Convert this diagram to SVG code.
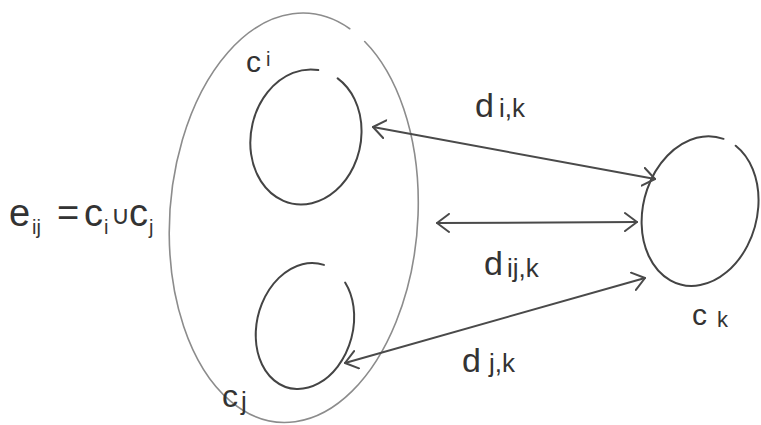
<svg xmlns="http://www.w3.org/2000/svg" width="761" height="425" viewBox="0 0 761 425">
<style>
.bg{fill:#ffffff}
.outer{fill:none;stroke:#8c8c8c;stroke-width:1.6;stroke-linecap:round}
.set{fill:none;stroke:#444;stroke-width:2;stroke-linecap:round}
.conn{fill:none;stroke:#4a4a4a;stroke-width:2;stroke-linecap:round}
.t{font-family:"Liberation Sans",Arial,sans-serif;fill:#333}
</style>
<defs>
<marker id="ah" viewBox="0 0 14 20" refX="13" refY="10" markerWidth="14" markerHeight="20" markerUnits="userSpaceOnUse" orient="auto-start-reverse">
<path d="M1,1 L13,10 L1,19" fill="none" stroke="#4a4a4a" stroke-width="2" stroke-linecap="round" stroke-linejoin="round"/>
</marker>
</defs>
<rect class="bg" x="0" y="0" width="761" height="425"/>
<g id="e_ij">
<path class="outer" transform="rotate(4 294 218)" d="M352.2,37 A124,205 0 1 1 336.4,25.3"/>
<text class="t" font-size="38"><tspan x="9" y="226">e</tspan><tspan x="32" y="234" font-size="20">ij</tspan><tspan x="57" y="226">=</tspan><tspan x="84" y="226">c</tspan><tspan x="104" y="234" font-size="20">i</tspan><tspan x="111" y="224" font-size="26">∪</tspan><tspan x="129" y="226">c</tspan><tspan x="149" y="234" font-size="20">j</tspan></text>
</g>
<g id="c_i">
<path class="set" transform="rotate(12 306 137)" d="M324.8,73.1 A55,68 0 1 1 304.1,69.0"/>
<text class="t" font-size="30"><tspan x="246" y="72">c</tspan><tspan x="266" y="66" font-size="20">i</tspan></text>
</g>
<g id="c_j">
<path class="set" transform="rotate(15 305 326)" d="M332.5,273.6 A48,64 0 1 1 307.5,262.1"/>
<text class="t" font-size="32"><tspan x="222" y="407">c</tspan><tspan x="241" y="410" font-size="26">j</tspan></text>
</g>
<g id="c_k">
<path class="set" transform="rotate(15 700 211)" d="M717.6,138.7 A57,76 0 1 1 704.0,135.2"/>
<text class="t" font-size="30"><tspan x="692" y="325">c</tspan><tspan x="717" y="327" font-size="22">k</tspan></text>
</g>
<g id="connectors">
<line class="conn" x1="373" y1="127" x2="655" y2="179" marker-start="url(#ah)" marker-end="url(#ah)"/>
<line class="conn" x1="437" y1="223" x2="637" y2="222" marker-start="url(#ah)" marker-end="url(#ah)"/>
<line class="conn" x1="345" y1="363" x2="645" y2="278" marker-start="url(#ah)" marker-end="url(#ah)"/>
<text class="t" font-size="34"><tspan x="475" y="117">d</tspan><tspan x="499" y="117" font-size="26">i,k</tspan></text>
<text class="t" font-size="34"><tspan x="484" y="275">d</tspan><tspan x="507" y="277" font-size="26">ij,k</tspan></text>
<text class="t" font-size="34"><tspan x="462" y="372">d</tspan><tspan x="489" y="372" font-size="26">j,k</tspan></text>
</g>
</svg>
